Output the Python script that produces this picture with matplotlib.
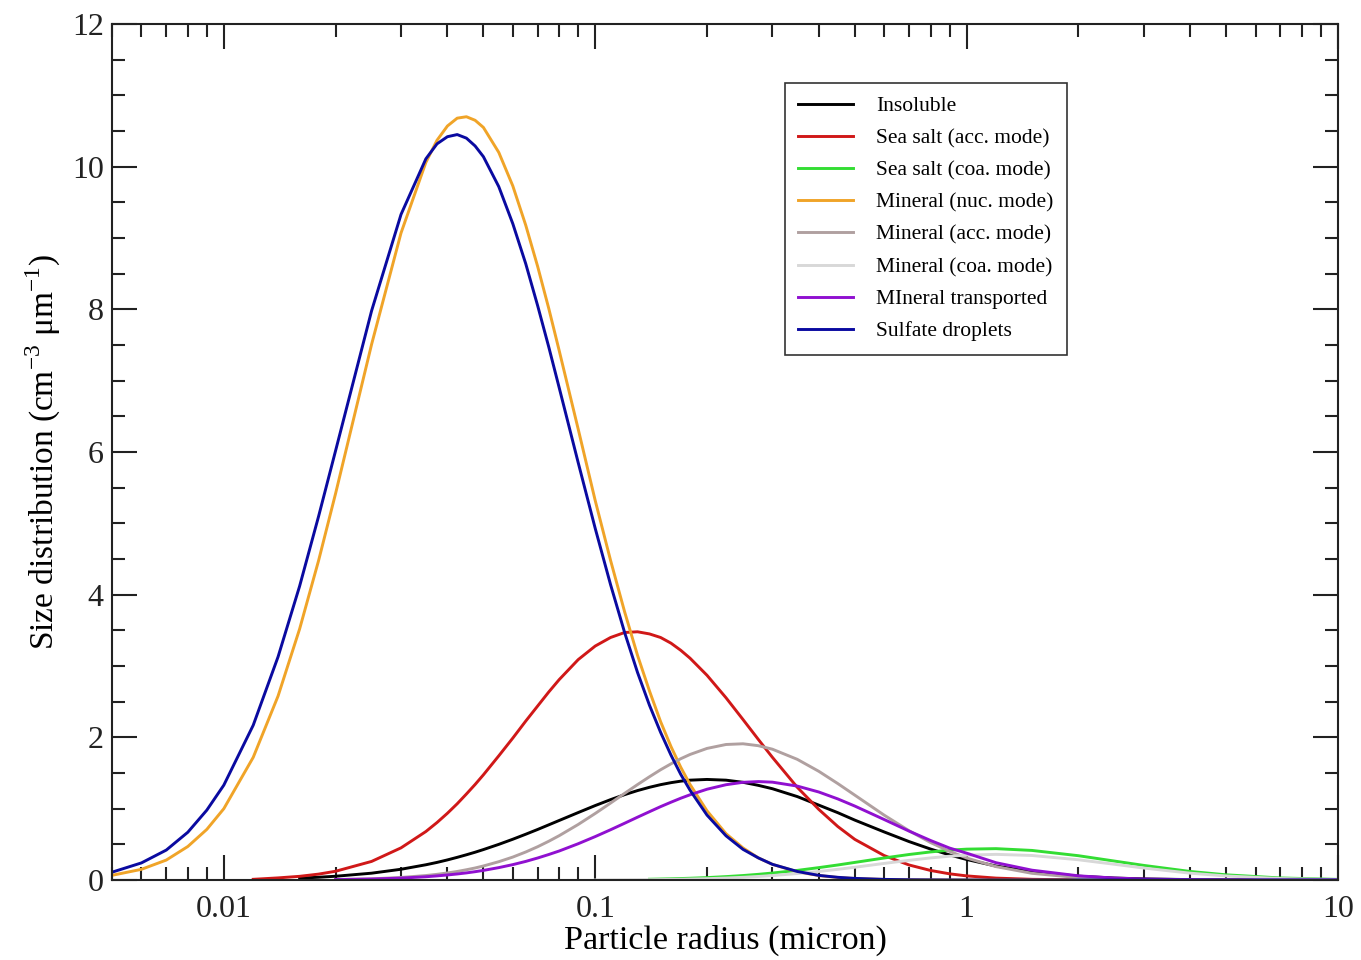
import matplotlib
matplotlib.use("Agg")
import matplotlib.pyplot as plt
import numpy as np
from matplotlib.ticker import LogLocator, MultipleLocator, FixedFormatter, FixedLocator, NullFormatter

# ------------------------------------------------------------
# DATA
# ------------------------------------------------------------

radius = [0.005, 0.006, 0.007, 0.008, 0.009, 0.01, 0.012, 0.014, 0.016, 0.018,
          0.02, 0.025, 0.03, 0.035, 0.0375, 0.04, 0.0425, 0.045, 0.0475, 0.05,
          0.055, 0.06, 0.065, 0.07, 0.075, 0.08, 0.09, 0.1, 0.11, 0.12,
          0.13, 0.14, 0.15, 0.16, 0.17, 0.18, 0.2, 0.225, 0.25, 0.275,
          0.3, 0.35, 0.4, 0.45, 0.5, 0.6, 0.7, 0.8, 0.9, 1.0,
          1.2, 1.5, 2.0, 2.5, 3.0, 4.0, 5.0, 7.0, 10.0]

nan = np.nan

insoluble = [nan, nan, nan, nan, nan, nan, nan, nan, 0.027, 0.039,
             0.053, 0.096, 0.151, 0.214, 0.247, 0.282, 0.318, 0.354, 0.390, 0.427,
             0.500, 0.572, 0.642, 0.709, 0.774, 0.835, 0.946, 1.044, 1.127, 1.197,
             1.254, 1.300, 1.337, 1.365, 1.386, 1.40, 1.41, 1.40, 1.37, 1.327,
             1.28, 1.17, 1.05, 0.944, 0.84, 0.674, 0.539, 0.434, 0.352, 0.288,
             0.196, 0.116, 0.054, 0.028, 0.016, 0.006, 0.002, 0.0, 0.0]

sea_salt_acc = [nan, nan, nan, nan, nan, nan, 0.01, 0.030, 0.052, 0.083,
                0.123, 0.261, 0.451, 0.680, 0.806, 0.936, 1.069, 1.206, 1.340, 1.475,
                1.741, 1.99, 2.228, 2.44, 2.637, 2.81, 3.09, 3.28, 3.40, 3.47,
                3.48, 3.45, 3.40, 3.32, 3.22, 3.11, 2.87, 2.555, 2.25, 1.97,
                1.72, 1.30, 0.99, 0.75, 0.57, 0.343, 0.211, 0.134, 0.087, 0.058,
                0.027, 0.010, 0.002, 0.0, 0.0, 0.0, 0.0, 0.0, 0.0]

sea_salt_coa = [nan, nan, nan, nan, nan, nan, nan, nan, nan, nan,
                nan, nan, nan, nan, nan, nan, nan, nan, nan, nan,
                nan, nan, nan, nan, nan, nan, nan, nan, nan, nan,
                nan, 0.011, 0.014, 0.017, 0.021, 0.025, 0.034, 0.048, 0.063, 0.080,
                0.098, 0.135, 0.174, 0.211, 0.247, 0.309, 0.358, 0.394, 0.419, 0.433,
                0.44, 0.415, 0.341, 0.266, 0.205, 0.120, 0.073, 0.029, 0.009]

mineral_nuc = [0.066, 0.15, 0.28, 0.47, 0.71, 1.00, 1.72, 2.58, 3.52, 4.48,
               5.42, 7.51, 9.07, 10.06, 10.37, 10.57, 10.68, 10.70, 10.65, 10.55,
               10.20, 9.73, 9.18, 8.60, 8.01, 7.42, 6.32, 5.32, 4.48, 3.76,
               3.15, 2.65, 2.22, 1.87, 1.58, 1.34, 0.97, 0.65, 0.45, 0.31,
               0.22, 0.116, 0.063, 0.036, 0.021, 0.008, 0.003, 0.001, 0.0, 0.0,
               0.0, 0.0, 0.0, 0.0, 0.0, 0.0, 0.0, 0.0, 0.0]

mineral_acc = [nan, nan, nan, nan, nan, nan, nan, nan, nan, nan,
               0.007, 0.017, 0.036, 0.063, 0.080, 0.099, 0.120, 0.144, 0.169, 0.197,
               0.257, 0.322, 0.393, 0.467, 0.544, 0.622, 0.779, 0.933, 1.079, 1.215,
               1.338, 1.448, 1.546, 1.629, 1.701, 1.76, 1.845, 1.90, 1.91, 1.883,
               1.834, 1.692, 1.524, 1.352, 1.19, 0.909, 0.691, 0.525, 0.402, 0.309,
               0.188, 0.094, 0.034, 0.014, 0.006, 0.001, 0.0, 0.0, 0.0]

mineral_coa = [nan, nan, nan, nan, nan, nan, nan, nan, nan, nan,
               nan, nan, nan, nan, nan, nan, nan, nan, nan, nan,
               nan, nan, nan, nan, nan, nan, nan, 0.001, 0.002, 0.003,
               0.004, 0.005, 0.007, 0.009, 0.011, 0.014, 0.019, 0.028, 0.038, 0.050,
               0.063, 0.091, 0.120, 0.150, 0.179, 0.233, 0.276, 0.310, 0.334, 0.349,
               0.36, 0.344, 0.284, 0.221, 0.168, 0.096, 0.057, 0.021, 0.006]

mineral_transported = [nan, nan, nan, nan, nan, nan, nan, nan, nan, nan,
                       0.006, 0.014, 0.027, 0.046, 0.058, 0.071, 0.085, 0.100, 0.117, 0.135,
                       0.174, 0.216, 0.261, 0.309, 0.358, 0.407, 0.509, 0.609, 0.705, 0.796,
                       0.881, 0.958, 1.029, 1.091, 1.147, 1.195, 1.273, 1.336, 1.37, 1.38,
                       1.372, 1.317, 1.234, 1.137, 1.037, 0.848, 0.686, 0.554, 0.448, 0.377,
                       0.243, 0.138, 0.059, 0.028, 0.014, 0.005, 0.002, 0.0, 0.0]

sulfate = [0.11, 0.24, 0.42, 0.67, 0.98, 1.33, 2.17, 3.13, 4.12, 5.10,
           6.02, 7.98, 9.33, 10.11, 10.32, 10.42, 10.45, 10.40, 10.29, 10.14,
           9.72, 9.20, 8.64, 8.05, 7.47, 6.90, 5.85, 4.93, 4.14, 3.47,
           2.91, 2.45, 2.07, 1.75, 1.48, 1.26, 0.91, 0.62, 0.43, 0.31,
           0.22, 0.12, 0.065, 0.038, 0.023, 0.009, 0.004, 0.002, 0.001, 0.0,
           0.0, 0.0, 0.0, 0.0, 0.0, 0.0, 0.0, 0.0, 0.0]

labels = ["Insoluble", "Sea salt (acc. mode)", "Sea salt (coa. mode)",
          "Mineral (nuc. mode)", "Mineral (acc. mode)", "Mineral (coa. mode)",
          "MIneral transported", "Sulfate droplets"]

x_tick_values = [0.01, 0.1, 1, 10]
x_tick_labels = ["0.01", "0.1", "1", "10"]

# ------------------------------------------------------------
# STYLE
# ------------------------------------------------------------

plt.rcParams["font.family"] = ["Liberation Serif", "DejaVu Serif"]
plt.rcParams["mathtext.fontset"] = "custom"
plt.rcParams["mathtext.rm"] = "Liberation Serif"

colors = ["#000000", "#d01818", "#33dd33", "#f0a428",
          "#b0a0a0", "#d8d8d8", "#9010d0", "#0a0aa0"]

series = [insoluble, sea_salt_acc, sea_salt_coa, mineral_nuc,
          mineral_acc, mineral_coa, mineral_transported, sulfate]

# ------------------------------------------------------------
# PLOT
# ------------------------------------------------------------

fig = plt.figure(figsize=(13.61, 9.60), dpi=100)
ax = fig.add_axes([0.0823, 0.0833, 0.9008, 0.8917])

for values, label, color in zip(series, labels, colors):
    ax.plot(radius, values, color=color, linewidth=2.1, label=label,
            solid_joinstyle="round")

ax.set_xscale("log")
ax.set_xlim(0.005, 10)
ax.set_ylim(0, 12)

ax.xaxis.set_major_locator(FixedLocator(x_tick_values))
ax.xaxis.set_major_formatter(FixedFormatter(x_tick_labels))
ax.xaxis.set_minor_locator(LogLocator(base=10, subs=np.arange(2, 10)))
ax.xaxis.set_minor_formatter(NullFormatter())
ax.yaxis.set_major_locator(MultipleLocator(2))
ax.yaxis.set_minor_locator(MultipleLocator(0.5))

ax.tick_params(which="both", direction="in", top=True, right=True,
               width=1.5, labelsize=23, colors="#222222")
ax.tick_params(which="major", length=18)
ax.tick_params(which="minor", length=9.5)
ax.tick_params(axis="x", pad=11)
ax.tick_params(axis="y", pad=6)

for spine in ax.spines.values():
    spine.set_linewidth(1.5)
    spine.set_color("#222222")

ax.set_xlabel("Particle radius (micron)", fontsize=24.5, labelpad=0)
ax.set_ylabel(r"Size distribution (cm$^{\mathregular{-3}}$ μm$^{\mathregular{-1}}$)",
              fontsize=24, labelpad=6)

legend = ax.legend(
    loc="upper left",
    bbox_to_anchor=(0.549, 0.931),
    fontsize=15.5,
    frameon=True,
    fancybox=False,
    edgecolor="#000000",
    handlelength=2.55,
    handletextpad=1.05,
    labelspacing=0.56,
    borderpad=0.62,
    borderaxespad=0,
)
legend.get_frame().set_linewidth(1.2)

fig.savefig("out.png", dpi=100)
